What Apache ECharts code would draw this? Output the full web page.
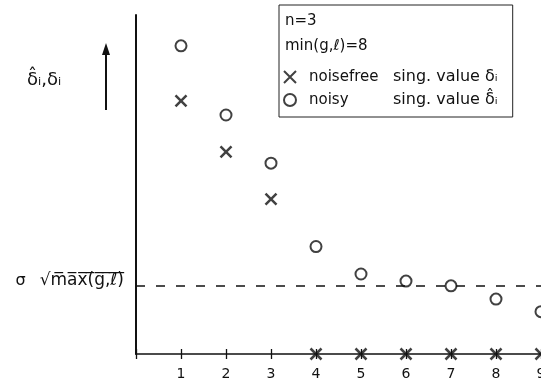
<!DOCTYPE html>
<html>
<head>
<meta charset="utf-8">
<script src="https://cdn.jsdelivr.net/npm/echarts@6/dist/echarts.min.js"></script>
<style>
html, body { margin: 0; padding: 0; background: #fff; }
#chart { width: 541px; height: 385px; }
</style>
</head>
<body>
<div id="chart"></div>
<script>
// index i of the singular value
const indices = [1, 2, 3, 4, 5, 6, 7, 8, 9];
// noisefree singular values (n = 3, only three non-zero)
const noisefree = [7.47, 5.96, 4.57, 0, 0, 0, 0, 0, 0];
// noisy singular values
const noisy = [9.09, 7.05, 5.63, 3.17, 2.36, 2.15, 2.01, 1.62, 1.25];
// noise level  sigma * sqrt(max(g, l))
const noiseLevel = 2.02;

const font = "DejaVu Sans";
const crossPath = "path://M0,0L10,10M10,0L0,10";
const sub = "\u1D62";
const hat = "\u0302";
// overline every char (combining overline) for the square root
const overline = (s) => s.split("").map((c) => c + "\u0305").join("");

const chart = echarts.init(document.getElementById("chart"));

const option = {
  backgroundColor: "#fff",
  animation: false,
  textStyle: { fontFamily: font, color: "#111" },
  grid: { left: 136, right: 0, top: 15, bottom: 31, outerBoundsMode: "none" },
  title: {
    text: "n=3\nmin(g,ℓ)=8",
    left: 285,
    top: 9,
    padding: 0,
    textStyle: { fontFamily: font, fontSize: 15, fontWeight: "normal", color: "#111", lineHeight: 25 },
  },
  legend: {
    orient: "vertical",
    left: 279,
    top: 5,
    padding: [64, 15, 9, 4],
    itemWidth: 14,
    itemHeight: 12,
    itemGap: 7,
    borderColor: "#222",
    borderWidth: 1,
    data: ["noisefree", "noisy"],
    formatter: function (name) {
      if (name === "noisefree") return "{a|noisefree}{b|sing. value δ" + sub + "}";
      return "{a|noisy}{b|sing. value δ" + hat + sub + "}";
    },
    textStyle: {
      fontFamily: font,
      fontSize: 15,
      color: "#111",
      lineHeight: 16,
      rich: {
        a: { fontFamily: font, fontSize: 15, width: 84, padding: [0, 0, 0, 7] },
        b: { fontFamily: font, fontSize: 16 },
      },
    },
  },
  xAxis: [
    {
      type: "value",
      min: 0,
      max: 9,
      interval: 1,
      axisLine: { lineStyle: { color: "#111", width: 1.5 } },
      axisTick: { length: 5, lineStyle: { color: "#111", width: 1.3 } },
      axisLabel: {
        margin: 13,
        fontFamily: font,
        fontSize: 14,
        color: "#111",
        formatter: (v) => (v === 0 ? "" : v),
      },
      splitLine: { show: false },
    },
    {
      type: "value",
      gridIndex: 0,
      position: "bottom",
      min: 0,
      max: 9,
      interval: 1,
      axisLine: { show: false },
      axisTick: { show: true, inside: true, length: 5, lineStyle: { color: "#111", width: 1.3 } },
      axisLabel: { show: false },
      splitLine: { show: false },
    },
  ],
  yAxis: {
    type: "value",
    min: 0,
    max: 10,
    axisLine: { show: true, lineStyle: { color: "#111", width: 2 } },
    axisTick: { show: false },
    axisLabel: { show: false },
    splitLine: { show: false },
  },
  graphic: [
    // arrow next to the y label
    { type: "line", shape: { x1: 106, y1: 110, x2: 106, y2: 52 }, style: { stroke: "#111", lineWidth: 2 } },
    { type: "polygon", shape: { points: [[102, 55], [110, 55], [106, 43]] }, style: { fill: "#111" } },
    {
      type: "text",
      left: 27,
      top: 71,
      style: { text: "δ" + hat + sub + ",δ" + sub, fontFamily: font, fontSize: 18, fill: "#111" },
    },
  ],
  series: [
    {
      name: "noisefree",
      type: "scatter",
      symbol: crossPath,
      symbolSize: 11,
      itemStyle: { color: "#111", borderColor: "#111", borderWidth: 2.5 },
      data: indices.map((x, k) => [x, noisefree[k]]),
      z: 3,
    },
    {
      name: "noisy",
      type: "scatter",
      symbol: "emptyCircle",
      symbolSize: 11,
      itemStyle: { color: "#111", borderColor: "#111", borderWidth: 1.6 },
      data: indices.map((x, k) => [x, noisy[k]]),
      markLine: {
        silent: true,
        symbol: "none",
        lineStyle: { color: "#111", type: [9, 11], width: 1.5 },
        label: {
          position: "start",
          distance: 12,
          color: "#111",
          padding: [0, 0, 10, 0],
          formatter: "{s|σ}{m|√" + overline("max(g,ℓ)") + "}",
          rich: {
            s: { fontFamily: font, fontSize: 16, color: "#111", padding: [0, 14, 0, 0] },
            m: { fontFamily: font, fontSize: 17, color: "#111" },
          },
        },
        data: [{ yAxis: noiseLevel }],
      },
    },
  ],
};
chart.setOption(option);
</script>
</body>
</html>
